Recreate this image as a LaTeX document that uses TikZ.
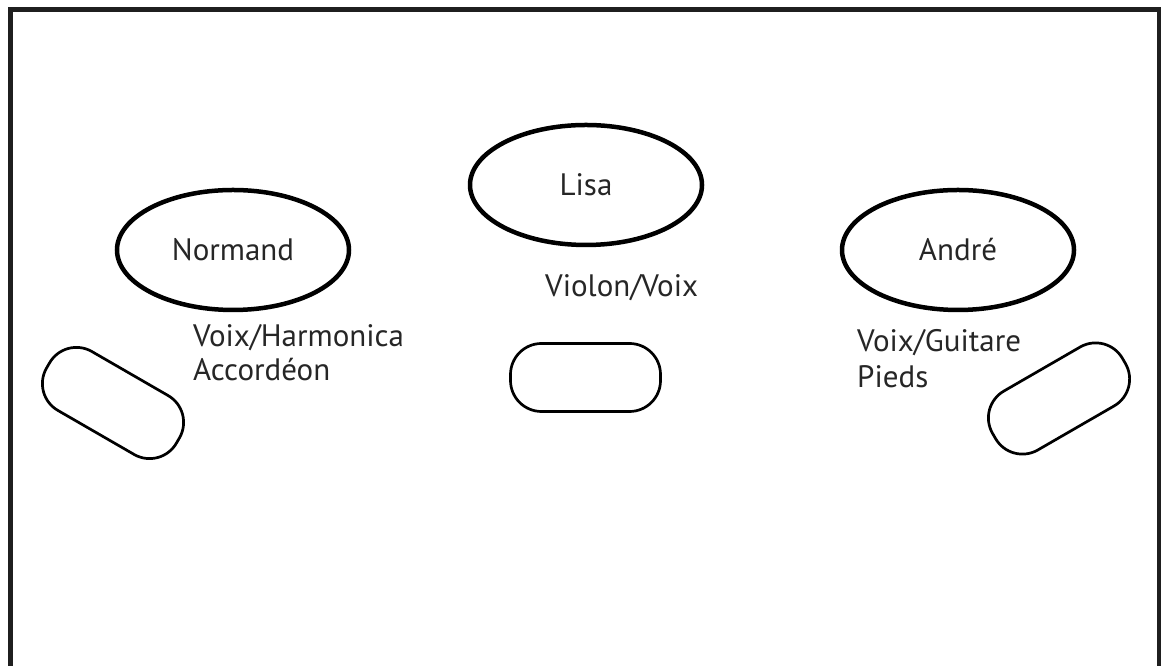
\documentclass[tikz,border=0pt]{standalone}
\usepackage{fontspec}
\setmainfont{PT Sans}
\usetikzlibrary{shapes.geometric}

\begin{document}
\begin{tikzpicture}[x=1pt,y=1pt,
  musician/.style={draw,ellipse,line width=4.5pt,minimum width=232pt,minimum height=120pt,inner sep=0pt,font=\fontsize{31}{37}\selectfont,text=black!85},
  instr/.style={inner sep=0pt,anchor=base west,font=\fontsize{31}{37}\selectfont,text=black!85},
  retour/.style={draw,rectangle,rounded corners=31pt,line width=2.7pt,minimum width=150pt,minimum height=68pt}]
  \useasboundingbox (0,0) rectangle (1161,666);
  % stage
  \draw[line width=5.5pt,black!88] (10.5,-5) -- (10.5,656.5) -- (1160,656.5) -- (1160,-5);

  %left
  \node[musician] (normand) at (233,416) {Normand};
  \node[instr] (normandA) at (193,319) {Voix/Harmonica};
  \node[instr] (normandB) at (193,285) {Accordéon};
  \node[retour,rotate=-30] (retourN) at (113,263) {};

  %middle
  \node[musician] (lisa) at (586,481) {Lisa};
  \node[instr] (lisaA) at (545,369) {Violon/Voix};
  \node[retour] (retourL) at (585.5,288.5) {};

  %right
  \node[musician] (andre) at (958,416) {André};
  \node[instr] (andreA) at (857,314) {Voix/Guitare};
  \node[instr] (andreB) at (857,278) {Pieds};
  \node[retour,rotate=30] (retourA) at (1059,267.5) {};
\end{tikzpicture}
\end{document}
